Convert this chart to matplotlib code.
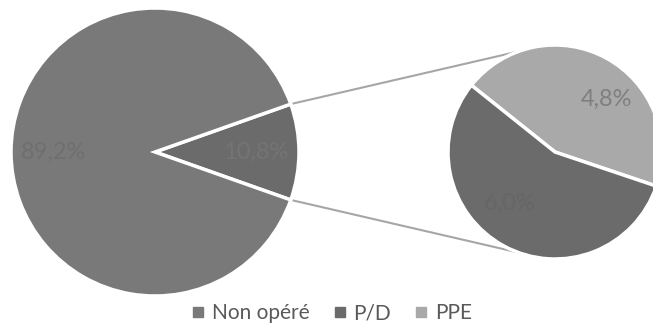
import numpy as np
import matplotlib
matplotlib.use("Agg")
import matplotlib.pyplot as plt

# Répartition des patients
categories = ["Non opéré", "P/D", "PPE"]
main_values = [89.2, 10.8]          # Non opéré, opérés (P/D + PPE)
detail_values = [4.8, 6.0]          # PPE, P/D
main_labels = ["89,2%", "10,8%"]
detail_labels = ["4,8%", "6,0%"]

col_non = "#797979"
col_pd = "#6b6b6b"
col_ppe = "#a9a9a9"

plt.rcParams["font.family"] = ["Lato", "DejaVu Sans"]

W, H = 653, 326
fig = plt.figure(figsize=(W / 100, H / 100), dpi=100)
ax = fig.add_axes([0, 0, 1, 1])

# main pie
c1, r1 = (155, 174), 144
op_share = main_values[1] / sum(main_values) * 360
start1 = -op_share / 2
ax.pie([main_values[1], main_values[0]], colors=[col_pd, col_non],
       startangle=start1, counterclock=True, center=c1, radius=r1,
       wedgeprops=dict(edgecolor="white", linewidth=2.5), frame=True)

# secondary pie (detail of operated patients)
c2, r2 = (555, 174), 107
start2 = -18.6
ax.pie(detail_values, colors=[col_ppe, col_pd],
       startangle=start2, counterclock=True, center=c2, radius=r2,
       wedgeprops=dict(edgecolor="white", linewidth=2.5), frame=True)
ax.set_xlim(0, W)
ax.set_ylim(0, H)
ax.set_aspect("equal")
ax.axis("off")

# connector lines
for sgn in (1, -1):
    a1 = np.deg2rad(sgn * op_share / 2)
    a2 = np.deg2rad(sgn * 110)
    p1 = (c1[0] + r1 * np.cos(a1), c1[1] + r1 * np.sin(a1))
    p2 = (c2[0] + r2 * np.cos(a2), c2[1] + r2 * np.sin(a2))
    ax.plot([p1[0], p2[0]], [p1[1], p2[1]], color="#a6a6a6", lw=1.5,
            solid_capstyle="butt", zorder=0)

# data labels
def polar(c, r, ang):
    a = np.deg2rad(ang)
    return c[0] + r * np.cos(a), c[1] + r * np.sin(a)

fs = 17
x, y = polar(c1, 101, 180)
ax.text(x, y, main_labels[0], ha="center", va="center", fontsize=fs, color="#6f6f6f")
x, y = polar(c1, 101, 0)
ax.text(x, y, main_labels[1], ha="center", va="center", fontsize=fs, color="#747474")
x, y = polar(c2, 73, 45.6)
ax.text(x, y, detail_labels[0], ha="center", va="center", fontsize=fs, color="#7f7f7f")
x, y = polar(c2, 68, 228.6)
ax.text(x, y, detail_labels[1], ha="center", va="center", fontsize=fs, color="#666666")

# legend
handles = [plt.Line2D([], [], marker="s", ls="none", color=c, markersize=6.5)
           for c in (col_non, col_pd, col_ppe)]
fig.legend(handles, categories, loc="center", bbox_to_anchor=(331 / W, 1 - 313 / H),
           ncol=3, frameon=False, fontsize=15, labelcolor="#595959",
           handletextpad=0.25, columnspacing=1.05, handlelength=0.8,
           borderaxespad=0, borderpad=0)

fig.savefig("out.png", dpi=100)
